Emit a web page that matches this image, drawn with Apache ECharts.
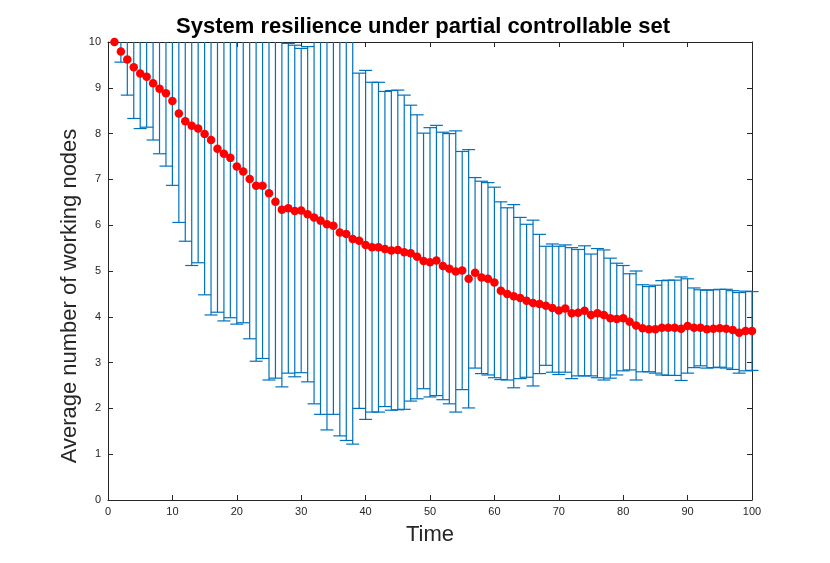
<!DOCTYPE html>
<html>
<head>
<meta charset="utf-8">
<script src="https://cdn.jsdelivr.net/npm/echarts@6/dist/echarts.min.js"></script>
<style>
html,body{margin:0;padding:0;background:#fff;}
#chart{width:830px;height:563px;}
</style>
</head>
<body>
<div id="chart"></div>
<script>
const timeSteps = [1,2,3,4,5,6,7,8,9,10,11,12,13,14,15,16,17,18,19,20,
  21,22,23,24,25,26,27,28,29,30,31,32,33,34,35,36,37,38,39,40,
  41,42,43,44,45,46,47,48,49,50,51,52,53,54,55,56,57,58,59,60,
  61,62,63,64,65,66,67,68,69,70,71,72,73,74,75,76,77,78,79,80,
  81,82,83,84,85,86,87,88,89,90,91,92,93,94,95,96,97,98,99,100];

const meanValues = [10.00,9.79,9.62,9.45,9.31,9.24,9.10,8.98,8.88,8.71,
  8.44,8.27,8.17,8.11,7.99,7.86,7.67,7.56,7.47,7.28,
  7.17,7.01,6.86,6.86,6.70,6.51,6.34,6.37,6.31,6.32,
  6.24,6.17,6.10,6.02,5.99,5.84,5.81,5.70,5.66,5.57,
  5.52,5.52,5.48,5.45,5.46,5.41,5.39,5.31,5.22,5.19,
  5.23,5.11,5.05,4.99,5.01,4.83,4.96,4.86,4.83,4.75,
  4.57,4.50,4.45,4.41,4.35,4.30,4.28,4.24,4.19,4.14,
  4.18,4.08,4.09,4.13,4.04,4.08,4.04,3.97,3.95,3.97,
  3.89,3.81,3.75,3.73,3.73,3.76,3.76,3.76,3.74,3.80,
  3.76,3.76,3.73,3.74,3.75,3.74,3.71,3.65,3.69,3.69];

const stdValues = [0.00,0.23,0.78,1.12,1.20,1.10,1.24,1.42,1.59,1.84,
  2.38,2.62,3.05,2.93,3.51,3.82,3.57,3.65,3.49,3.44,
  3.30,3.49,3.83,3.77,4.08,3.85,3.87,3.60,3.62,3.54,
  3.66,4.07,4.23,4.49,4.12,4.44,4.51,4.48,3.66,3.81,
  3.60,3.60,3.44,3.49,3.49,3.43,3.23,3.10,2.79,2.94,
  2.95,2.92,2.95,3.07,2.60,2.82,2.08,2.10,2.10,2.08,
  1.94,1.88,2.00,1.76,1.67,1.81,1.52,1.30,1.40,1.40,
  1.39,1.43,1.38,1.42,1.33,1.41,1.42,1.31,1.22,1.15,
  1.05,1.19,0.95,0.93,0.96,1.03,1.04,1.04,1.13,1.03,
  0.87,0.83,0.85,0.85,0.85,0.86,0.86,0.88,0.87,0.86];

const xTicks = {min:0, max:100, interval:10};
const yTicks = {min:0, max:10, interval:1};

const titleText = 'System resilience under partial controllable set';
const xLabelText = 'Time';
const yLabelText = 'Average number of working nodes';

const axisColor = '#262626';
const barColor = '#0072BD';
const fontFam = 'Liberation Sans, Arial, Helvetica, sans-serif';

const errData = timeSteps.map((t,i)=>[t, meanValues[i], stdValues[i]]);
const meanData = timeSteps.map((t,i)=>[t, meanValues[i]]);

const chart = echarts.init(document.getElementById('chart'));

function baseAxis(extra){
  return Object.assign({
    type:'value',
    axisLine:{show:true, onZero:false, lineStyle:{color:axisColor, width:1}},
    axisTick:{show:true, inside:true, length:5, lineStyle:{color:axisColor}},
    splitLine:{show:false},
    axisLabel:{color:axisColor, fontFamily:fontFam, fontSize:11}
  }, extra);
}

chart.setOption({
  animation:false,
  backgroundColor:'#fff',
  title:{
    text:titleText,
    left:418, top:11, textAlign:'center',
    textStyle:{fontFamily:fontFam, fontWeight:'bold', fontSize:22, color:'#000'}
  },
  graphic:[
    {
      type:'text',
      x:70, y:296,
      rotation:Math.PI/2,
      style:{text:yLabelText, fontFamily:fontFam, fontSize:22, fill:axisColor,
        textAlign:'center', textVerticalAlign:'middle'}
    }
  ],
  grid:{left:108, right:78, top:42, bottom:63, containLabel:false},
  xAxis:[
    baseAxis({min:xTicks.min, max:xTicks.max, interval:xTicks.interval, position:'bottom',
      name:xLabelText, nameLocation:'middle', nameGap:24,
      nameTextStyle:{fontFamily:fontFam, fontSize:22, color:axisColor},
      axisLabel:{color:axisColor, fontFamily:fontFam, fontSize:11, margin:6}}),
    baseAxis({min:xTicks.min, max:xTicks.max, interval:xTicks.interval, position:'top', axisLabel:{show:false}})
  ],
  yAxis:[
    baseAxis({min:yTicks.min, max:yTicks.max, interval:yTicks.interval, position:'left',
      axisLabel:{color:axisColor, fontFamily:fontFam, fontSize:11, margin:7}}),
    baseAxis({min:yTicks.min, max:yTicks.max, interval:yTicks.interval, position:'right', axisLabel:{show:false}})
  ],
  series:[
    {
      type:'custom',
      xAxisIndex:0, yAxisIndex:0,
      data:errData,
      z:2,
      renderItem:function(params, api){
        const x = api.value(0), m = api.value(1), e = api.value(2);
        if (!e) return null;
        const hiV = m + e, loV = m - e;
        const topC = api.coord([x, Math.min(hiV, yTicks.max)]);
        const botC = api.coord([x, Math.max(loV, yTicks.min)]);
        const half = 6.5;
        const style = {stroke:barColor, lineWidth:1.2, fill:null};
        const children = [
          {type:'line', shape:{x1:topC[0], y1:topC[1], x2:botC[0], y2:botC[1]}, style:style}
        ];
        if (hiV <= yTicks.max) {
          children.push({type:'line', shape:{x1:topC[0]-half, y1:topC[1], x2:topC[0]+half, y2:topC[1]}, style:style});
        }
        if (loV >= yTicks.min) {
          children.push({type:'line', shape:{x1:botC[0]-half, y1:botC[1], x2:botC[0]+half, y2:botC[1]}, style:style});
        }
        return {type:'group', children:children};
      }
    },
    {
      type:'scatter',
      xAxisIndex:0, yAxisIndex:0,
      data:meanData,
      symbol:'circle',
      symbolSize:8.5,
      itemStyle:{color:'#FF0000', opacity:1},
      z:5
    }
  ]
});
</script>
</body>
</html>
